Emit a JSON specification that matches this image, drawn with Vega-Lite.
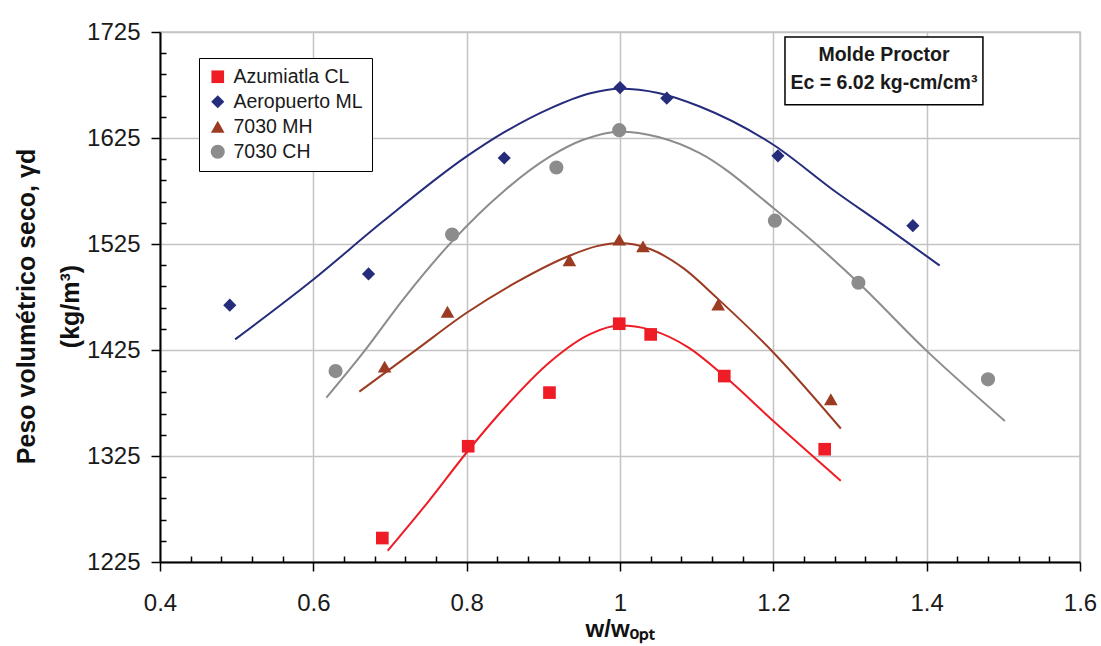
{
  "$schema": "https://vega.github.io/schema/vega-lite/v6.json",
  "width": 920,
  "height": 530,
  "autosize": {"type": "none"},
  "padding": {"left": 160, "top": 32, "right": 21, "bottom": 84},
  "background": "white",
  "config": {
    "font": "Liberation Sans",
    "view": {"stroke": "#c4c4c4", "strokeWidth": 1.5},
    "axis": {"labelColor": "#1a1a1a", "titleColor": "#111111", "labelFont": "Liberation Sans", "titleFont": "Liberation Sans", "labelFlush": false, "labelOverlap": false}
  },
  "datasets": {
    "points": [
      {"series": "Azumiatla CL", "w": 0.690, "peso": 1247.6},
      {"series": "Azumiatla CL", "w": 0.802, "peso": 1334.2},
      {"series": "Azumiatla CL", "w": 0.908, "peso": 1384.8},
      {"series": "Azumiatla CL", "w": 0.999, "peso": 1449.8},
      {"series": "Azumiatla CL", "w": 1.040, "peso": 1439.7},
      {"series": "Azumiatla CL", "w": 1.136, "peso": 1400.4},
      {"series": "Azumiatla CL", "w": 1.267, "peso": 1331.4},
      {"series": "Aeropuerto ML", "w": 0.491, "peso": 1467.3},
      {"series": "Aeropuerto ML", "w": 0.672, "peso": 1496.8},
      {"series": "Aeropuerto ML", "w": 0.849, "peso": 1606.1},
      {"series": "Aeropuerto ML", "w": 1.000, "peso": 1672.6},
      {"series": "Aeropuerto ML", "w": 1.061, "peso": 1662.6},
      {"series": "Aeropuerto ML", "w": 1.206, "peso": 1608.2},
      {"series": "Aeropuerto ML", "w": 1.382, "peso": 1542.3},
      {"series": "7030 MH", "w": 0.693, "peso": 1409.3},
      {"series": "7030 MH", "w": 0.775, "peso": 1461.1},
      {"series": "7030 MH", "w": 0.934, "peso": 1509.7},
      {"series": "7030 MH", "w": 0.999, "peso": 1529.1},
      {"series": "7030 MH", "w": 1.030, "peso": 1522.8},
      {"series": "7030 MH", "w": 1.128, "peso": 1467.9},
      {"series": "7030 MH", "w": 1.275, "peso": 1378.5},
      {"series": "7030 CH", "w": 0.629, "peso": 1405.1},
      {"series": "7030 CH", "w": 0.781, "peso": 1533.9},
      {"series": "7030 CH", "w": 0.917, "peso": 1597.2},
      {"series": "7030 CH", "w": 0.999, "peso": 1632.4},
      {"series": "7030 CH", "w": 1.202, "peso": 1547.0},
      {"series": "7030 CH", "w": 1.311, "peso": 1488.4},
      {"series": "7030 CH", "w": 1.480, "peso": 1397.3}
    ],
    "curves": [
      {"series": "Aeropuerto ML", "w": 0.498, "peso": 1435.0},
      {"series": "Aeropuerto ML", "w": 0.600, "peso": 1491.5},
      {"series": "Aeropuerto ML", "w": 0.691, "peso": 1546.4},
      {"series": "Aeropuerto ML", "w": 0.800, "peso": 1607.6},
      {"series": "Aeropuerto ML", "w": 0.848, "peso": 1630.0},
      {"series": "Aeropuerto ML", "w": 0.909, "peso": 1653.0},
      {"series": "Aeropuerto ML", "w": 0.960, "peso": 1667.0},
      {"series": "Aeropuerto ML", "w": 1.000, "peso": 1671.5},
      {"series": "Aeropuerto ML", "w": 1.050, "peso": 1667.5},
      {"series": "Aeropuerto ML", "w": 1.104, "peso": 1654.7},
      {"series": "Aeropuerto ML", "w": 1.200, "peso": 1618.6},
      {"series": "Aeropuerto ML", "w": 1.278, "peso": 1576.0},
      {"series": "Aeropuerto ML", "w": 1.343, "peso": 1543.0},
      {"series": "Aeropuerto ML", "w": 1.417, "peso": 1504.7},
      {"series": "7030 CH", "w": 0.617, "peso": 1380.1},
      {"series": "7030 CH", "w": 0.665, "peso": 1422.5},
      {"series": "7030 CH", "w": 0.717, "peso": 1472.6},
      {"series": "7030 CH", "w": 0.781, "peso": 1527.5},
      {"series": "7030 CH", "w": 0.848, "peso": 1574.6},
      {"series": "7030 CH", "w": 0.909, "peso": 1607.6},
      {"series": "7030 CH", "w": 0.952, "peso": 1623.3},
      {"series": "7030 CH", "w": 1.000, "peso": 1631.0},
      {"series": "7030 CH", "w": 1.050, "peso": 1626.0},
      {"series": "7030 CH", "w": 1.104, "peso": 1610.8},
      {"series": "7030 CH", "w": 1.200, "peso": 1559.0},
      {"series": "7030 CH", "w": 1.311, "peso": 1488.4},
      {"series": "7030 CH", "w": 1.398, "peso": 1425.6},
      {"series": "7030 CH", "w": 1.502, "peso": 1358.1},
      {"series": "7030 MH", "w": 0.660, "peso": 1385.7},
      {"series": "7030 MH", "w": 0.735, "peso": 1425.6},
      {"series": "7030 MH", "w": 0.800, "peso": 1460.1},
      {"series": "7030 MH", "w": 0.865, "peso": 1489.0},
      {"series": "7030 MH", "w": 0.931, "peso": 1513.0},
      {"series": "7030 MH", "w": 0.970, "peso": 1523.0},
      {"series": "7030 MH", "w": 1.000, "peso": 1526.0},
      {"series": "7030 MH", "w": 1.040, "peso": 1520.0},
      {"series": "7030 MH", "w": 1.083, "peso": 1502.0},
      {"series": "7030 MH", "w": 1.128, "peso": 1473.0},
      {"series": "7030 MH", "w": 1.200, "peso": 1422.7},
      {"series": "7030 MH", "w": 1.288, "peso": 1350.9},
      {"series": "Azumiatla CL", "w": 0.697, "peso": 1235.6},
      {"series": "Azumiatla CL", "w": 0.750, "peso": 1282.0},
      {"series": "Azumiatla CL", "w": 0.800, "peso": 1328.3},
      {"series": "Azumiatla CL", "w": 0.844, "peso": 1366.0},
      {"series": "Azumiatla CL", "w": 0.909, "peso": 1414.0},
      {"series": "Azumiatla CL", "w": 0.961, "peso": 1440.0},
      {"series": "Azumiatla CL", "w": 1.000, "peso": 1448.0},
      {"series": "Azumiatla CL", "w": 1.040, "peso": 1444.0},
      {"series": "Azumiatla CL", "w": 1.090, "peso": 1427.0},
      {"series": "Azumiatla CL", "w": 1.136, "peso": 1400.4},
      {"series": "Azumiatla CL", "w": 1.200, "peso": 1358.0},
      {"series": "Azumiatla CL", "w": 1.288, "peso": 1301.6}
    ]
  },
  "layer": [
    {
      "data": {"name": "curves"},
      "mark": {"type": "line", "interpolate": "monotone", "strokeWidth": 2},
      "encoding": {
        "x": {"field": "w", "type": "quantitative",
          "scale": {"domain": [0.4, 1.6], "nice": false, "zero": false},
          "axis": {"orient": "bottom", "tickCount": 200, "values": [0.4,0.44,0.48,0.52,0.56,0.6,0.64,0.68,0.72,0.76,0.8,0.84,0.88,0.92,0.96,1.0,1.04,1.08,1.12,1.16,1.2,1.24,1.28,1.32,1.36,1.4,1.44,1.48,1.52,1.56,1.6],
            "labelExpr": "abs(datum.value * 5 - round(datum.value * 5)) < 0.001 ? format(datum.value, '~g') : ''",
            "grid": true, "gridColor": "#c4c4c4", "gridWidth": 1.5,
            "gridOpacity": {"condition": {"test": "abs(datum.value * 5 - round(datum.value * 5)) < 0.001", "value": 1}, "value": 0},
            "tickSize": {"condition": {"test": "abs(datum.value * 5 - round(datum.value * 5)) < 0.001", "value": 9}, "value": -6},
            "domainColor": "black", "domainWidth": 2, "tickColor": "black", "tickWidth": 1.5, "labelPadding": 20, "labelFontSize": 24,
            "title": "w/wₒₚₜ", "titleFontSize": 24, "titleFontWeight": "bold", "titleX": 460, "titleY": 74, "titleBaseline": "alphabetic", "titleAlign": "center"}},
        "y": {"field": "peso", "type": "quantitative",
          "scale": {"domain": [1225, 1725], "nice": false, "zero": false},
          "axis": {"orient": "left", "tickCount": 200, "values": [1225,1245,1265,1285,1305,1325,1345,1365,1385,1405,1425,1445,1465,1485,1505,1525,1545,1565,1585,1605,1625,1645,1665,1685,1705,1725],
            "labelExpr": "(datum.value - 1225) % 100 == 0 ? format(datum.value, 'd') : ''",
            "grid": true, "gridColor": "#c4c4c4", "gridWidth": 1.5,
            "gridOpacity": {"condition": {"test": "(datum.value - 1225) % 100 == 0", "value": 1}, "value": 0},
            "tickSize": {"condition": {"test": "(datum.value - 1225) % 100 == 0", "value": 9}, "value": -6},
            "domainColor": "black", "domainWidth": 2, "tickColor": "black", "tickWidth": 1.5, "labelPadding": 11, "labelFontSize": 24,
            "title": ["Peso volumétrico seco, γd", "(kg/m³)"], "titleFontSize": 25, "titleFontWeight": "bold", "titleLineHeight": 44, "titleAngle": -90, "titleX": -134, "titleY": 274, "titleAlign": "center", "titleBaseline": "middle"}},
        "detail": {"field": "series"},
        "color": {"field": "series", "type": "nominal",
          "scale": {"domain": ["Azumiatla CL", "Aeropuerto ML", "7030 MH", "7030 CH"], "range": ["#ee1c25", "#262c7c", "#9b3b22", "#8c8c8c"]}}
      }
    },
    {
      "data": {"name": "points"},
      "mark": {"type": "point", "filled": true, "opacity": 1},
      "encoding": {
        "x": {"field": "w", "type": "quantitative"},
        "y": {"field": "peso", "type": "quantitative"},
        "size": {"field": "series", "type": "nominal", "legend": null,
          "scale": {"domain": ["Azumiatla CL", "Aeropuerto ML", "7030 MH", "7030 CH"], "range": [160, 200, 220, 180]}},
        "color": {"field": "series", "type": "nominal",
          "scale": {"domain": ["Azumiatla CL", "Aeropuerto ML", "7030 MH", "7030 CH"], "range": ["#ee1c25", "#262c7c", "#9b3b22", "#8c8c8c"]},
          "legend": {"orient": "none", "legendX": 39, "legendY": 26, "title": null, "strokeColor": "black", "fillColor": "white", "padding": 9, "labelFontSize": 19.5, "labelColor": "#1a1a1a", "rowPadding": 4, "symbolSize": 150, "labelOffset": 6, "symbolStrokeWidth": 0}},
        "shape": {"field": "series", "type": "nominal",
          "scale": {"domain": ["Azumiatla CL", "Aeropuerto ML", "7030 MH", "7030 CH"], "range": ["square", "diamond", "triangle-up", "circle"]},
          "legend": {"orient": "none", "legendX": 39, "legendY": 26, "title": null, "strokeColor": "black", "fillColor": "white", "padding": 9, "labelFontSize": 19.5, "labelColor": "#1a1a1a", "rowPadding": 4, "symbolSize": 150, "labelOffset": 6, "symbolStrokeWidth": 0}}
      }
    },
    {
      "data": {"values": [{}]},
      "mark": {"type": "rect", "fill": "white", "stroke": "black", "strokeWidth": 1.5},
      "encoding": {
        "x": {"datum": 1.2152, "type": "quantitative"},
        "x2": {"datum": 1.4734},
        "y": {"datum": 1720.3, "type": "quantitative"},
        "y2": {"datum": 1656.3}
      }
    },
    {
      "data": {"values": [{}]},
      "mark": {"type": "text", "text": ["Molde Proctor", "Ec = 6.02 kg-cm/cm³"], "fontSize": 19.5, "fontWeight": "bold", "lineHeight": 28, "align": "center", "baseline": "middle", "color": "#1a1a1a"},
      "encoding": {
        "x": {"datum": 1.3443, "type": "quantitative"},
        "y": {"datum": 1703.3, "type": "quantitative"}
      }
    }
  ]
}
